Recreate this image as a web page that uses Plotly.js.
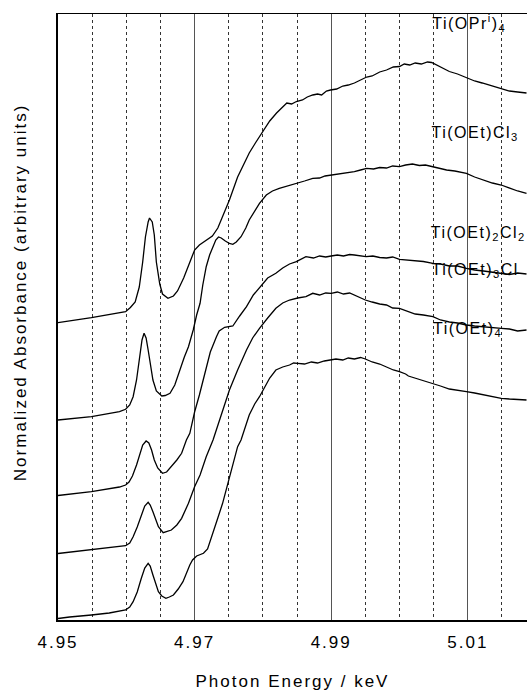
<!DOCTYPE html>
<html>
<head>
<meta charset="utf-8">
<script src="https://cdn.plot.ly/plotly-3.0.1.min.js"></script>
<style>
  html, body { margin: 0; padding: 0; background: #fff; }
  #chart { width: 527px; height: 692px; }
  #chart text { letter-spacing: 2px; }
  #chart g.annotation text { letter-spacing: 1.5px; }
  #chart g.annotation:last-of-type text { letter-spacing: 2px; }
</style>
</head>
<body>
<div id="chart"></div>
<script>
// Ti K-edge XANES spectra, stacked with vertical offsets (arbitrary units)

const energyOPri = [4.9500,4.9549,4.9599,4.9606,4.9613,4.9619,4.9624,4.9628,4.9632,4.9634,4.9638,4.9641,4.9644,4.9649,4.9653,4.9661,4.9669,4.9675,4.9684,4.9693,4.9700,4.9707,4.9716,4.9726,4.9734,4.9741,4.9751,4.9763,4.9773,4.9780,4.9789,4.9799,4.9810,4.9820,4.9827,4.9835,4.9842,4.9849,4.9858,4.9865,4.9873,4.9880,4.9886,4.9893,4.9899,4.9908,4.9917,4.9925,4.9934,4.9943,4.9952,4.9960,4.9971,4.9981,4.9991,5.0000,5.0007,5.0015,5.0023,5.0032,5.0041,5.0047,5.0054,5.0063,5.0073,5.0085,5.0098,5.0110,5.0121,5.0136,5.0149,5.0161,5.0173,5.0186];
const absOPri = [2.973,3.023,3.083,3.125,3.18,3.33,3.58,3.83,3.98,4.02,3.98,3.85,3.58,3.36,3.26,3.217,3.24,3.29,3.42,3.58,3.70,3.75,3.79,3.84,3.92,4.03,4.20,4.43,4.58,4.67,4.77,4.88,4.99,5.07,5.12,5.17,5.16,5.185,5.20,5.23,5.25,5.26,5.25,5.29,5.30,5.31,5.34,5.35,5.37,5.40,5.43,5.44,5.48,5.50,5.53,5.535,5.56,5.55,5.57,5.56,5.58,5.575,5.55,5.52,5.485,5.46,5.42,5.39,5.37,5.34,5.315,5.29,5.28,5.27];

const energyCl3 = [4.9500,4.9549,4.9590,4.9599,4.9605,4.9610,4.9615,4.9620,4.9623,4.9626,4.9629,4.9632,4.9636,4.9639,4.9644,4.9652,4.9657,4.9664,4.9671,4.9678,4.9685,4.9691,4.9698,4.9703,4.9708,4.9712,4.9717,4.9722,4.9727,4.9731,4.9735,4.9739,4.9745,4.9751,4.9756,4.9761,4.9768,4.9775,4.9780,4.9788,4.9795,4.9805,4.9814,4.9824,4.9836,4.9849,4.9861,4.9873,4.9883,4.9891,4.9900,4.9912,4.9924,4.9934,4.9943,4.9952,4.9962,4.9971,4.9981,4.9990,5.0000,5.0009,5.0019,5.0029,5.0038,5.0049,5.0059,5.0069,5.0081,5.0098,5.0110,5.0123,5.0136,5.0149,5.0161,5.0173,5.0186];
const absCl3 = [2.00,2.033,2.083,2.107,2.15,2.233,2.40,2.633,2.80,2.867,2.82,2.70,2.54,2.40,2.29,2.24,2.245,2.267,2.35,2.50,2.63,2.733,2.90,3.05,3.167,3.35,3.533,3.65,3.733,3.80,3.83,3.82,3.79,3.765,3.757,3.78,3.833,3.92,4.00,4.09,4.167,4.25,4.29,4.317,4.34,4.36,4.39,4.417,4.42,4.44,4.45,4.46,4.47,4.483,4.50,4.517,4.51,4.525,4.52,4.54,4.533,4.55,4.56,4.545,4.55,4.533,4.52,4.50,4.49,4.467,4.43,4.40,4.37,4.35,4.32,4.29,4.267];

const energyCl2 = [4.9500,4.9549,4.9590,4.9599,4.9604,4.9609,4.9615,4.9620,4.9624,4.9629,4.9633,4.9637,4.9641,4.9646,4.9653,4.9659,4.9666,4.9674,4.9681,4.9688,4.9693,4.9700,4.9707,4.9717,4.9723,4.9732,4.9736,4.9744,4.9750,4.9756,4.9766,4.9776,4.9786,4.9798,4.9807,4.9819,4.9829,4.9839,4.9849,4.9863,4.9874,4.9883,4.9892,4.9900,4.9909,4.9918,4.9927,4.9934,4.9943,4.9951,4.9961,4.9971,4.9981,4.9990,5.0000,5.0012,5.0023,5.0035,5.0049,5.0060,5.0073,5.0085,5.0098,5.0110,5.0123,5.0136,5.0149,5.0161,5.0173,5.0186];
const absCl2 = [1.245,1.283,1.33,1.35,1.38,1.44,1.55,1.667,1.75,1.79,1.77,1.70,1.60,1.52,1.467,1.48,1.533,1.60,1.667,1.80,1.867,2.08,2.25,2.533,2.68,2.833,2.89,2.927,2.93,2.94,3.04,3.133,3.25,3.35,3.42,3.467,3.52,3.56,3.583,3.633,3.62,3.64,3.63,3.64,3.65,3.64,3.655,3.65,3.64,3.633,3.64,3.625,3.62,3.63,3.607,3.60,3.59,3.585,3.567,3.56,3.54,3.54,3.517,3.50,3.49,3.48,3.467,3.455,3.47,3.46];

const energyCl = [4.9500,4.9549,4.9590,4.9599,4.9605,4.9610,4.9616,4.9622,4.9627,4.9632,4.9635,4.9639,4.9643,4.9647,4.9654,4.9660,4.9666,4.9674,4.9681,4.9691,4.9700,4.9708,4.9712,4.9717,4.9727,4.9733,4.9742,4.9751,4.9763,4.9776,4.9785,4.9795,4.9807,4.9819,4.9829,4.9839,4.9851,4.9863,4.9873,4.9883,4.9892,4.9900,4.9909,4.9918,4.9927,4.9934,4.9941,4.9950,4.9960,4.9971,4.9981,4.9990,5.0000,5.0012,5.0023,5.0035,5.0049,5.0060,5.0073,5.0085,5.0098,5.0110,5.0123,5.0136,5.0149,5.0161,5.0173,5.0186];
const absCl = [0.665,0.70,0.73,0.743,0.77,0.833,0.93,1.05,1.14,1.177,1.15,1.083,1.00,0.933,0.873,0.885,0.90,0.95,1.017,1.167,1.333,1.45,1.533,1.633,1.80,1.92,2.10,2.30,2.50,2.70,2.82,2.917,3.02,3.117,3.17,3.20,3.22,3.233,3.267,3.25,3.27,3.267,3.28,3.26,3.27,3.25,3.23,3.20,3.18,3.16,3.15,3.12,3.117,3.09,3.06,3.05,3.033,3.00,2.98,2.97,2.95,2.94,2.93,2.925,2.917,2.91,2.89,2.90];

const energyOEt = [4.9500,4.9517,4.9549,4.9575,4.9599,4.9605,4.9610,4.9616,4.9622,4.9627,4.9632,4.9635,4.9639,4.9643,4.9647,4.9652,4.9658,4.9663,4.9669,4.9676,4.9683,4.9693,4.9697,4.9703,4.9713,4.9719,4.9727,4.9734,4.9741,4.9751,4.9757,4.9763,4.9768,4.9773,4.9780,4.9788,4.9795,4.9802,4.9810,4.9819,4.9829,4.9839,4.9845,4.9851,4.9861,4.9871,4.9880,4.9890,4.9900,4.9907,4.9917,4.9925,4.9934,4.9943,4.9950,4.9960,4.9971,4.9981,4.9991,5.0000,5.0009,5.0013,5.0023,5.0035,5.0049,5.0060,5.0073,5.0085,5.0098,5.0110,5.0123,5.0136,5.0149,5.0161,5.0173,5.0186];
const absOEt = [0.015,0.03,0.05,0.07,0.10,0.13,0.183,0.28,0.417,0.52,0.567,0.54,0.45,0.36,0.283,0.24,0.217,0.23,0.25,0.31,0.383,0.55,0.60,0.64,0.667,0.71,0.867,1.02,1.167,1.433,1.60,1.733,1.80,1.90,2.05,2.16,2.233,2.32,2.42,2.50,2.53,2.55,2.57,2.567,2.56,2.58,2.57,2.59,2.60,2.61,2.60,2.62,2.61,2.625,2.61,2.58,2.56,2.53,2.50,2.483,2.46,2.44,2.42,2.39,2.367,2.34,2.31,2.30,2.283,2.27,2.25,2.23,2.217,2.21,2.205,2.20];

// Compound labels placed beside the right-hand end of each spectrum
const labelTexts = ['Ti(OPr<sup>i</sup>)<sub>4</sub>', 'Ti(OEt)Cl<sub>3</sub>', 'Ti(OEt)<sub>2</sub>Cl<sub>2</sub>', 'Ti(OEt)<sub>3</sub>Cl', 'Ti(OEt)<sub>4</sub>'];
const labelEnergy = [5.0055, 5.0055, 5.0055, 5.0055, 5.0055];
const labelLevel = [5.97, 4.87, 3.87, 3.50, 2.91];

const xTickVals = [4.95, 4.97, 4.99, 5.01];
const xTickText = ['4.95', '4.97', '4.99', '5.01'];

const yTitle = 'Normalized Absorbance (arbitrary units)';
const xTitle = 'Photon Energy / keV';

const FONT = 'Liberation Sans, Arial, Helvetica, sans-serif';

const series = [
  [energyOPri, absOPri],
  [energyCl3, absCl3],
  [energyCl2, absCl2],
  [energyCl, absCl],
  [energyOEt, absOEt]
];

const traces = series.map(([x, y]) => ({
  x: x, y: y, type: 'scatter', mode: 'lines',
  line: { color: '#000', width: 1.3 },
  hoverinfo: 'skip', showlegend: false
}));

const annotations = labelTexts.map((t, i) => ({
  x: labelEnergy[i], y: labelLevel[i], xref: 'x', yref: 'y',
  text: t, showarrow: false, xanchor: 'left', yanchor: 'middle',
  font: { family: FONT, size: 16, color: '#000' }
}));

// Vertical axis caption, set slightly above the plot's middle
annotations.push({
  x: -0.081, y: 0.541, xref: 'paper', yref: 'paper',
  text: yTitle, textangle: -90, showarrow: false,
  xanchor: 'center', yanchor: 'middle',
  font: { family: FONT, size: 17, color: '#000' }
});

const layout = {
  width: 527, height: 692,
  margin: { l: 58, r: 0, t: 14, b: 72, pad: 0 },
  paper_bgcolor: '#fff', plot_bgcolor: '#fff',
  showlegend: false,
  font: { family: FONT, size: 17, color: '#000' },
  xaxis: {
    range: [4.95, 5.01867],
    tickmode: 'array', tickvals: xTickVals, ticktext: xTickText,
    ticks: '', ticklabelstandoff: 6,
    tickfont: { family: FONT, size: 17, color: '#000' },
    showgrid: true, gridcolor: '#555', gridwidth: 1,
    minor: { dtick: 0.005, tick0: 4.95, showgrid: true, gridcolor: '#333', gridwidth: 1, griddash: '3px,3px' },
    showline: true, linecolor: '#000', linewidth: 1.5, mirror: true,
    zeroline: false,
    title: { text: xTitle, font: { family: FONT, size: 17, color: '#000' }, standoff: 24 }
  },
  yaxis: {
    range: [0, 6.06],
    showticklabels: false, ticks: '',
    showgrid: false, zeroline: false,
    showline: true, linecolor: '#000', linewidth: 1.8, mirror: false
  },
  annotations: annotations
};

Plotly.newPlot('chart', traces, layout, { staticPlot: true, displayModeBar: false });
</script>
</body>
</html>
